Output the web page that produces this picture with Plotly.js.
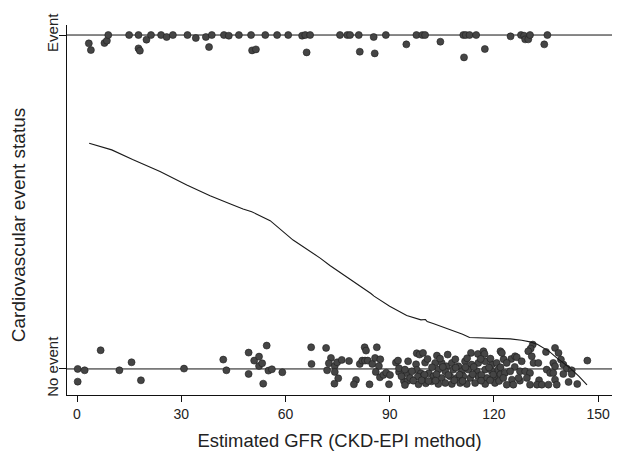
<!DOCTYPE html>
<html>
<head>
<meta charset="utf-8">
<script src="https://cdn.plot.ly/plotly-3.0.1.min.js"></script>
<style>html,body{margin:0;padding:0;background:#fff;}#chart{width:620px;height:452px;}</style>
</head>
<body>
<div id="chart"></div>
<script>
// Cardiovascular event status vs estimated GFR (jittered), with lowess smoother
const eventX = [3.4,4.0,7.9,8.6,9.0,15.0,17.7,17.7,18.1,20.0,21.3,24.2,25.8,27.6,31.8,34.2,37.1,38.0,38.8,42.3,43.7,46.6,50.1,50.4,51.5,54.2,57.6,60.8,64.8,65.7,66.1,67.1,75.7,77.8,78.6,81.1,81.4,85.4,85.7,88.9,94.8,97.7,99.4,100.2,104.6,111.2,111.9,113.0,111.4,114.9,117.4,124.8,127.8,128.7,129.0,129.9,130.4,134.5,135.4];
const eventY = [0.975,0.955,0.976,0.983,1.0,1.0,1.0,0.960,0.953,0.986,1.0,1.0,0.994,1.0,1.0,0.991,0.994,0.964,1.0,1.0,0.998,1.0,1.0,0.954,0.957,1.0,1.0,1.0,0.998,1.0,0.948,1.0,1.0,1.0,1.0,1.0,0.950,0.994,0.945,1.0,0.972,1.0,1.0,1.0,0.980,1.0,1.0,1.0,0.933,1.0,0.958,0.996,1.0,0.998,0.987,0.987,1.0,0.972,1.0];

const noEventX = [0.2,0.2,2.2,6.8,12.2,15.7,18.4,30.8,42.1,43.0,49.4,49.4,51.0,52.4,52.4,
53.3,54.6,55.1,56.1,59.1,53.6,67.4,67.5,71.7,73.1,72.5,72.0,74.2,74.9,76.2,78.3,74.2,75.2,74.1,80.3,79.7,
82.8,83.2,86.3,81.4,82.1,82.9,83.7,85.0,85.8,87.3,86.9,86.0,87.2,88.2,89.0,84.2,89.8,90.1,91.8,92.4,95.3,
92.7,92.7,94.9,94.1,95.1,94.4,97.8,98.6,99.6,97.6,97.8,99.0,99.5,98.1,100.2,101.3,98.3,100.4,
93.4,95.9,96.4,94.4,
103.6,106.7,113.4,115.4,117.0,117.3,121.9,
103.1,105.0,106.4,107.9,109.8,111.7,113.6,115.5,117.5,119.4,120.8,
104.0,106.0,108.3,110.8,112.7,115.1,117.5,119.4,121.3,
102.6,105.0,107.4,109.3,111.2,113.2,115.5,118.0,120.3,
102.1,104.0,106.0,107.9,110.3,112.2,114.6,117.5,120.3,
100.9,104.5,108.9,112.3,116.2,119.0,122.8,125.0,
100.0,103.5,106.9,110.1,113.9,116.4,119.8,121.9,
102.2,105.3,109.0,111.8,114.2,118.6,121.9,126.0,
96.8,99.2,101.2,103.2,108.6,111.0,116.3,118.9,121.5,127.5,133.0,
131.2,130.6,135.0,137.6,138.6,139.3,146.9,122.3,126.1,126.6,129.9,130.9,131.4,132.8,128.0,123.7,
137.1,137.6,140.0,141.0,142.4,135.2,136.2,137.1,123.2,124.7,127.5,129.0,130.4,
122.7,125.2,127.1,129.5,137.6,123.7,125.6,130.4,132.4,133.8,135.7,138.1,141.5,144.0,140.0,142.4];
const noEventY = [0.0,-0.038,-0.004,0.056,-0.004,0.020,-0.034,0.001,0.028,-0.004,0.049,-0.015,0.025,0.037,0.009,
0.017,0.070,-0.005,-0.001,-0.010,-0.044,0.065,0.015,0.063,0.033,0.017,-0.004,0.009,0.020,0.027,0.024,-0.009,-0.028,-0.044,-0.033,-0.046,
0.065,0.055,0.065,0.015,0.025,0.025,0.025,0.015,0.033,0.029,0.009,-0.009,-0.025,-0.018,-0.011,-0.046,-0.046,-0.018,0.019,0.025,0.023,
-0.009,0.002,-0.013,-0.036,-0.036,-0.048,0.047,0.043,0.048,0.014,-0.003,-0.013,-0.023,-0.023,0.019,-0.013,-0.046,-0.043,
-0.022,-0.027,-0.007,-0.002,
0.040,0.043,0.048,0.045,0.053,0.045,0.053,
0.018,0.018,0.008,0.018,0.008,0.023,0.013,0.018,0.023,0.013,0.018,
-0.002,-0.007,-0.002,-0.007,-0.002,-0.007,-0.002,-0.007,-0.002,
-0.022,-0.027,-0.022,-0.027,-0.022,-0.027,-0.022,-0.027,-0.022,
-0.037,-0.045,-0.042,-0.045,-0.042,-0.045,-0.042,-0.045,-0.042,
0.030,0.031,0.029,0.032,0.030,0.031,0.029,0.030,
-0.017,-0.016,-0.018,-0.017,-0.016,-0.018,-0.017,-0.016,
0.005,0.006,0.004,0.005,0.006,0.004,0.005,0.006,
-0.035,-0.034,-0.036,-0.035,-0.034,-0.036,-0.035,-0.034,-0.036,-0.035,-0.034,
0.073,0.061,0.051,0.063,0.048,0.028,0.025,0.048,0.038,0.035,0.053,0.038,0.018,0.018,0.023,0.018,
0.018,0.008,0.013,0.001,-0.004,-0.002,-0.012,-0.012,-0.012,-0.007,-0.007,-0.007,-0.012,
-0.027,-0.032,-0.027,-0.027,-0.032,-0.047,-0.047,-0.047,-0.047,-0.047,-0.047,-0.047,-0.039,-0.045,-0.015,-0.015];

const lowessX = [3.5,10.0,16.0,23.9,31.6,38.3,44.0,47.8,50.3,55.6,62.2,66.0,70.0,72.8,75.7,80.0,84.0,84.6,85.5,90.0,94.9,96.5,99.0,100.3,100.8,102.5,105.0,108.0,111.0,113.0,117.0,121.0,124.7,128.0,130.4,132.5,134.2,136.0,138.1,140.0,141.9,144.5,146.8];
const lowessY = [0.676,0.656,0.627,0.591,0.551,0.519,0.495,0.479,0.471,0.444,0.386,0.360,0.332,0.310,0.290,0.258,0.232,0.226,0.218,0.188,0.160,0.155,0.147,0.148,0.142,0.136,0.127,0.116,0.104,0.094,0.093,0.092,0.090,0.086,0.081,0.074,0.064,0.052,0.033,0.017,0.003,-0.022,-0.048];

const xTicks = [0,30,60,90,120,150];
const yTickVals = [0,1];
const yTickText = ['No event','Event'];

const marker = {size:7, color:'#454545', line:{color:'#1e1e1e', width:0.6}};
const traces = [
  {x:eventX, y:eventY, type:'scatter', mode:'markers', marker:marker, hoverinfo:'x+y', name:'Event'},
  {x:noEventX, y:noEventY, type:'scatter', mode:'markers', marker:marker, hoverinfo:'x+y', name:'No event'},
  {x:lowessX, y:lowessY, type:'scatter', mode:'lines', line:{color:'#1a1a1a', width:1.1}, hoverinfo:'skip', name:'lowess'}
];
const fam = 'Liberation Sans, Arial, sans-serif';
const txt = '#222';
const layout = {
  width:620, height:452,
  margin:{l:67, r:8, t:25, b:57},
  paper_bgcolor:'#fff', plot_bgcolor:'#fff',
  showlegend:false,
  font:{family:fam, color:txt},
  xaxis:{range:[-2.88,154], tickvals:xTicks, ticks:'outside', ticklen:6, tickcolor:'#111', tickwidth:1,
    showline:true, linecolor:'#111', linewidth:1, showgrid:false, zeroline:false,
    tickfont:{size:14, family:fam, color:txt},
    title:{text:'Estimated GFR (CKD-EPI method)', font:{size:18.4, family:fam, color:txt}, standoff:13}},
  yaxis:{range:[-0.078,1.03], tickvals:yTickVals, ticktext:yTickText, tickangle:-90, ticks:'outside', ticklen:7, tickcolor:'#111', tickwidth:1,
    ticklabelstandoff:-5,
    showline:true, linecolor:'#111', linewidth:1, showgrid:false, zeroline:false,
    tickfont:{size:15, family:fam, color:txt}},
  annotations:[
    {text:'Cardiovascular event status', xref:'paper', yref:'paper', x:-0.0899, y:0.459, textangle:-90,
     showarrow:false, xanchor:'center', yanchor:'middle', font:{size:19, family:fam, color:txt}}
  ],
  shapes:[
    {type:'line', xref:'paper', x0:0, x1:1, yref:'y', y0:0, y1:0, line:{color:'#111', width:1}, layer:'below'},
    {type:'line', xref:'paper', x0:0, x1:1, yref:'y', y0:1, y1:1, line:{color:'#111', width:1}, layer:'below'}
  ]
};
Plotly.newPlot('chart', traces, layout, {displayModeBar:false, staticPlot:true});
</script>
</body>
</html>
